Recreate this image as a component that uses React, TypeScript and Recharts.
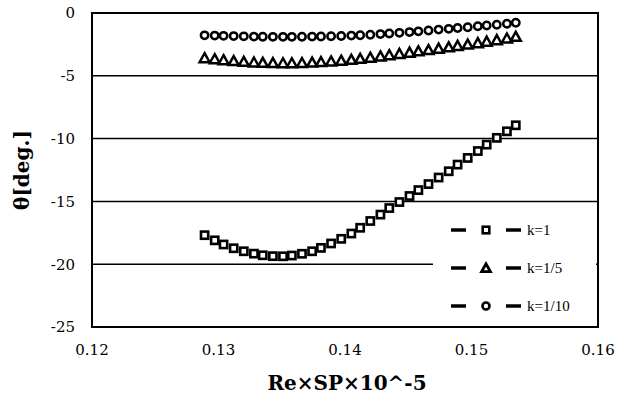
import React from 'react';
import { ScatterChart, Scatter, XAxis, YAxis, CartesianGrid, ReferenceArea, Label } from 'recharts';

const xValues = [
  0.1289, 0.1297, 0.1304, 0.1312, 0.132, 0.1328, 0.1335, 0.1343, 0.1351, 0.1358, 0.1366,
  0.1374, 0.1381, 0.1389, 0.1397, 0.1405, 0.1412, 0.142, 0.1428, 0.1435, 0.1443, 0.1451,
  0.1458, 0.1466, 0.1474, 0.1482, 0.1489, 0.1497, 0.1505, 0.1512, 0.152, 0.1528, 0.1535,
];
const k1Values = [
  -17.69, -18.1, -18.43, -18.73, -18.97, -19.16, -19.29, -19.36, -19.37, -19.31, -19.17,
  -18.97, -18.7, -18.35, -17.98, -17.56, -17.1, -16.56, -16.05, -15.53, -15.05, -14.57,
  -14.1, -13.62, -13.1, -12.6, -12.07, -11.54, -10.99, -10.48, -9.94, -9.42, -8.94,
];
const k5Values = [
  -3.6, -3.68, -3.76, -3.83, -3.89, -3.94, -3.97, -3.99, -4.0, -4.0, -3.98,
  -3.95, -3.91, -3.86, -3.8, -3.73, -3.65, -3.56, -3.46, -3.36, -3.26, -3.16,
  -3.05, -2.95, -2.84, -2.73, -2.62, -2.51, -2.4, -2.28, -2.16, -2.03, -1.9,
];
const k10Values = [
  -1.78, -1.8, -1.82, -1.84, -1.86, -1.88, -1.89, -1.9, -1.9, -1.9, -1.89,
  -1.88, -1.87, -1.85, -1.83, -1.8, -1.77, -1.73, -1.68, -1.63, -1.58, -1.52,
  -1.46, -1.39, -1.32, -1.26, -1.19, -1.13, -1.06, -1.0, -0.93, -0.86, -0.78,
];
const xTicks = [0.12, 0.13, 0.14, 0.15, 0.16];
const yTicks = [-25, -20, -15, -10, -5, 0];
const seriesNames = ['k=1', 'k=1/5', 'k=1/10'];
const xTitle = 'Re×SP×10^-5';
const yTitle = 'θ[deg.]';

const toPoints = (ys: number[]) => xValues.map((x, i) => ({ x, y: ys[i] }));
const k1Data = toPoints(k1Values);
const k5Data = toPoints(k5Values);
const k10Data = toPoints(k10Values);

const SquareMark = (p: any) => (
  <rect x={p.cx - 3.6} y={p.cy - 3.6} width={7.2} height={7.2} fill="#fff" stroke="#000" strokeWidth={2.6} />
);
const TriangleMark = (p: any) => (
  <polygon
    points={`${p.cx},${p.cy - 5} ${p.cx + 5},${p.cy + 4} ${p.cx - 5},${p.cy + 4}`}
    fill="#fff"
    stroke="#000"
    strokeWidth={2.5}
    strokeLinejoin="miter"
  />
);
const CircleMark = (p: any) => (
  <circle cx={p.cx} cy={p.cy} r={3.7} fill="#fff" stroke="#000" strokeWidth={2.5} />
);

const tickFont = { fontFamily: 'DejaVu Serif', fontSize: 15, fill: '#000' };
const titleFont = 'DejaVu Serif';

const LegendMarker = ({ kind }: { kind: number }) => (
  <svg width={72} height={14} style={{ display: 'block' }}>
    <line x1={1} y1={7} x2={16} y2={7} stroke="#000" strokeWidth={3.5} />
    <line x1={56} y1={7} x2={71} y2={7} stroke="#000" strokeWidth={3.5} />
    {kind === 0 && <rect x={32.7} y={3.7} width={6.6} height={6.6} fill="#fff" stroke="#000" strokeWidth={2.6} />}
    {kind === 1 && (
      <polygon points="36,2.8 40.4,10.6 31.6,10.6" fill="#fff" stroke="#000" strokeWidth={2.8} />
    )}
    {kind === 2 && <circle cx={36} cy={7} r={3.5} fill="#fff" stroke="#000" strokeWidth={2.6} />}
  </svg>
);

export default function App() {
  return (
    <div style={{ position: 'absolute', left: 0, top: 0, width: 623, height: 401, background: '#fff' }}>
      <ScatterChart width={623} height={401} margin={{ top: 13, right: 25, left: 0, bottom: 0 }}>
        <CartesianGrid horizontal vertical={false} stroke="#000" strokeWidth={1.5} />
        <XAxis
          type="number"
          dataKey="x"
          domain={[0.12, 0.16]}
          ticks={xTicks}
          tickFormatter={(v: number) => v.toFixed(2)}
          tick={tickFont}
          tickSize={0}
          tickMargin={17}
          axisLine={false}
          height={74}
          allowDataOverflow
        >
          <Label
            content={(props: any) => {
              const vb = props.viewBox;
              return (
                <text
                  x={vb.x + vb.width / 2 + 2}
                  y={vb.y + 63}
                  textAnchor="middle"
                  fontFamily={titleFont}
                  fontWeight="bold"
                  fontSize={20}
                  fill="#000"
                >
                  {xTitle}
                </text>
              );
            }}
          />
        </XAxis>
        <YAxis
          type="number"
          dataKey="y"
          domain={[-25, 0]}
          ticks={yTicks}
          tick={tickFont}
          tickSize={0}
          tickMargin={17}
          axisLine={false}
          width={92}
          allowDataOverflow
        >
          <Label
            content={(props: any) => {
              const vb = props.viewBox;
              const cx = 22;
              const cy = vb.y + vb.height / 2;
              return (
                <text
                  x={cx}
                  y={cy}
                  transform={`rotate(-90 ${cx} ${cy})`}
                  textAnchor="middle"
                  dominantBaseline="central"
                  fontFamily={titleFont}
                  fontWeight="bold"
                  fontSize={20}
                  fill="#000"
                >
                  {yTitle}
                </text>
              );
            }}
          />
        </YAxis>
        <ReferenceArea x1={0.12} x2={0.16} y1={-25} y2={0} fill="none" stroke="#000" strokeWidth={2} ifOverflow="visible" />
        <Scatter name={seriesNames[0]} data={k1Data} shape={SquareMark} isAnimationActive={false} />
        <Scatter name={seriesNames[1]} data={k5Data} shape={TriangleMark} isAnimationActive={false} />
        <Scatter name={seriesNames[2]} data={k10Data} shape={CircleMark} isAnimationActive={false} />
      </ScatterChart>
      <div
        style={{
          position: 'absolute',
          left: 433,
          top: 212,
          width: 163,
          height: 112,
          background: '#fff',
        }}
      >
        {seriesNames.map((name, i) => (
          <div
            key={name}
            style={{
              position: 'absolute',
              left: 17,
              top: 11 + i * 38,
              display: 'flex',
              alignItems: 'center',
              height: 14,
            }}
          >
            <LegendMarker kind={i} />
            <span
              style={{
                marginLeft: 5,
                fontFamily: 'Liberation Serif',
                fontSize: 15,
                color: '#000',
                lineHeight: '14px',
              }}
            >
              {name}
            </span>
          </div>
        ))}
      </div>
    </div>
  );
}
